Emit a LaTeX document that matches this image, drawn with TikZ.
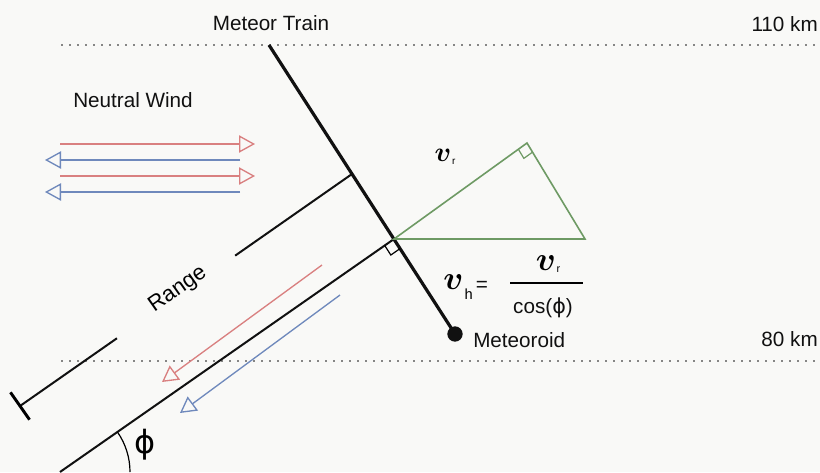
\documentclass[tikz,border=0pt]{standalone}
\usepackage{amsmath}
\usepackage{fontspec}
\setmainfont{Liberation Sans}
\newfontfamily\greekfont{DejaVu Sans}
\usepackage{xcolor}
\definecolor{cInk}{HTML}{111111}
\definecolor{cOut}{HTML}{D98080}
\definecolor{cIn}{HTML}{6F89BC}
\definecolor{cTri}{HTML}{6E9A64}
\definecolor{cPaper}{HTML}{F9F9F7}
\usepackage{tikz}
\usetikzlibrary{arrows.meta,calc}
\tikzset{
  lbl/.style={font=\fontsize{15.5}{18}\selectfont,inner sep=0pt,text=cInk},
  level-line/.style={line width=1.2pt,line cap=round,dash pattern=on 0pt off 6pt,draw=cInk},
  train-line/.style={line width=2.4pt,draw=cInk},
  range-line/.style={line width=1.5pt,draw=cInk},
  wind-out/.style={-{Triangle[open,length=12pt,width=13pt]},line width=1pt,draw=cOut},
  wind-in/.style={-{Triangle[open,length=12pt,width=13pt]},line width=1pt,draw=cIn},
  tri-edge/.style={line width=1.2pt,draw=cTri},
  right-mark/.style={line width=0.9pt},
}
\newcommand{\bigv}[1]{{\fontsize{#1}{#1}\selectfont$\boldsymbol{v}$}}
\newcommand{\phichar}{{\greekfont ϕ}}

\begin{document}
\begin{tikzpicture}[x=0.75pt,y=-0.75pt]
  \fill[cPaper] (0,0) rectangle (820,472);
  \useasboundingbox (0,0) rectangle (820,472);

  % altitude levels
  \coordinate (top-l) at (62,45);
  \coordinate (top-r) at (820,45);
  \coordinate (bot-l) at (62,361);
  \coordinate (bot-r) at (820,361);
  \draw[level-line] (top-l) -- (top-r);
  \draw[level-line] (bot-l) -- (bot-r);
  \node[lbl,anchor=east] (h-top) at (818,24)  {110 km};
  \node[lbl,anchor=east] (h-bot) at (818,339) {80 km};

  % meteor train
  \coordinate (trn-top) at (269,45);
  \node[circle,fill=cInk,minimum size=11.5pt,inner sep=0pt] (met) at (455,334) {};
  \coordinate (o) at (394,239);
  \draw[train-line] (trn-top) -- (met.center);
  \node[lbl] (trn-lbl) at (271,23) {Meteor Train};
  \node[lbl,anchor=west] (met-lbl) at (473,340) {Meteoroid};

  % line of sight and range
  \coordinate (gnd) at (60,472);
  \draw[range-line] (o) -- (gnd);
  \coordinate (rng-a) at (352,174);
  \coordinate (rng-b) at (20,406);
  \draw[range-line] (rng-a) -- ($(rng-a)!0.352!(rng-b)$);
  \draw[range-line] ($(rng-a)!0.708!(rng-b)$) -- (rng-b);
  \draw[line width=2.2pt] ($(rng-b)!12.5pt!90:(rng-a)$) -- ($(rng-b)!12.5pt!-90:(rng-a)$);
  \node[font=\fontsize{16.5}{18}\selectfont,inner sep=0pt,rotate=35] (rng-lbl) at (178,290) {Range};
  \draw[right-mark] ($(o)!8.5pt!(gnd)$) -- ($($(o)!8.5pt!(gnd)$)+($(o)!8.5pt!(met)$)-(o)$)
    -- ($(o)!8.5pt!(met)$);

  % elevation angle
  \draw[line width=0.9pt] ($(gnd)+(70,0)$) arc[start angle=0,end angle=-35,radius=70];
  \node[font=\fontsize{24}{26}\selectfont,inner sep=0pt] (phi-lbl) at (145,445) {\phichar};

  % neutral wind
  \node[lbl] (wind-lbl) at (133,100) {Neutral Wind};
  \foreach \yy in {144,176}{\draw[wind-out] (60,\yy) -- (255,\yy);}
  \foreach \yy in {160,192}{\draw[wind-in] (240,\yy) -- (45,\yy);}
  \draw[wind-out] (322,265) -- (162,382);
  \draw[wind-in]  (340,295) -- (180,413);

  % velocity triangle
  \coordinate (tri-top) at (527,143);
  \coordinate (tri-r) at (585,239);
  \draw[tri-edge] (o) -- (tri-top) -- (tri-r) -- cycle;
  \draw[right-mark,draw=cTri] ($(tri-top)!8pt!(o)$) -- ($($(tri-top)!8pt!(o)$)+($(tri-top)!8pt!(tri-r)$)-(tri-top)$)
    -- ($(tri-top)!8pt!(tri-r)$);
  \node[inner sep=0pt] (vr-lbl) at (445,157)
    {\bigv{21}\kern0.5pt\raisebox{-2pt}{\fontsize{7.5}{8}\selectfont r}};

  % v_h = v_r / cos(phi)
  \node[inner sep=0pt,anchor=base west] (vh-lbl) at (443,289)
    {\bigv{23}\kern1pt\raisebox{-7.5pt}{\fontsize{11}{12}\selectfont h}};
  \node[lbl] (eq-lbl) at (482,286) {=};
  \coordinate (bar-l) at (510,283);
  \coordinate (bar-r) at (583,283);
  \draw[line width=1.4pt] (bar-l) -- (bar-r);
  \node[inner sep=0pt] (num-lbl) at (548,264)
    {\bigv{23}\kern0.5pt\raisebox{-1pt}{\fontsize{8}{9}\selectfont r}};
  \node[lbl] (den-lbl) at (543,308) {cos(\phichar)};
\end{tikzpicture}
\end{document}
